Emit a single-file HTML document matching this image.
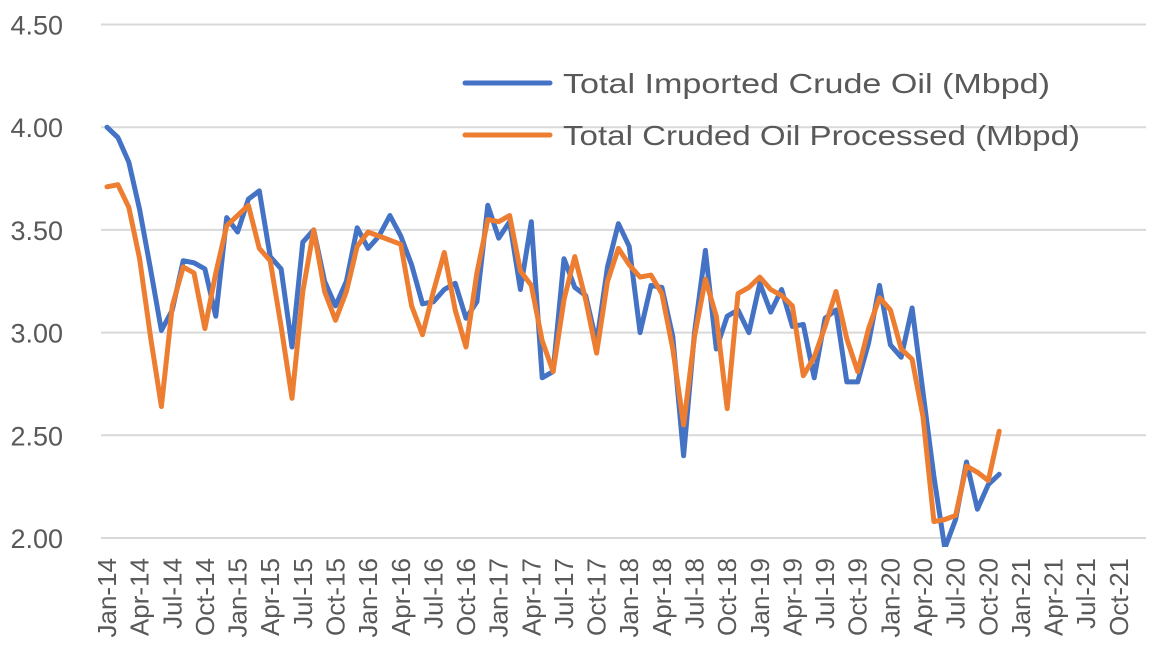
<!DOCTYPE html>
<html><head><meta charset="utf-8"><style>
html,body{margin:0;padding:0;background:#fff}
svg{display:block;font-family:"Liberation Sans",sans-serif}
</style></head><body>
<svg id="chart" width="1156" height="660" viewBox="0 0 1156 660" xmlns="http://www.w3.org/2000/svg">
<defs><clipPath id="plotclip"><rect x="95" y="10" width="1060" height="537"/></clipPath></defs>
<g id="grid"></g>
<g id="ylabels"></g>
<g id="xlabels"></g>
<g id="series" clip-path="url(#plotclip)"></g>
<g>
  <line x1="465" y1="83" x2="550" y2="83" stroke="#4472C4" stroke-width="5" stroke-linecap="round"/>
  <text x="563" y="93" font-size="28" fill="#595959" textLength="487" lengthAdjust="spacingAndGlyphs">Total Imported Crude Oil (Mbpd)</text>
  <line x1="465" y1="135" x2="550" y2="135" stroke="#ED7D31" stroke-width="5" stroke-linecap="round"/>
  <text x="563" y="145" font-size="28" fill="#595959" textLength="517" lengthAdjust="spacingAndGlyphs">Total Cruded Oil Processed (Mbpd)</text>
</g>
</svg>
<script>
const yTicks = [2.0, 2.5, 3.0, 3.5, 4.0, 4.5];
const months = ["Jan","Feb","Mar","Apr","May","Jun","Jul","Aug","Sep","Oct","Nov","Dec"];
const categoryCount = 96;
const imported = [4.00,3.95,3.83,3.60,3.31,3.01,3.11,3.35,3.34,3.31,3.08,3.56,3.49,3.65,3.69,3.37,3.31,2.93,3.44,3.50,3.25,3.13,3.25,3.51,3.41,3.47,3.57,3.47,3.33,3.14,3.15,3.21,3.24,3.07,3.15,3.62,3.46,3.54,3.21,3.54,2.78,2.81,3.36,3.22,3.18,2.95,3.32,3.53,3.42,3.00,3.23,3.22,2.98,2.40,3.00,3.40,2.92,3.08,3.11,3.00,3.24,3.10,3.21,3.03,3.04,2.78,3.07,3.11,2.76,2.76,2.95,3.23,2.94,2.88,3.12,2.71,2.30,1.95,2.09,2.37,2.14,2.26,2.31];
const processed = [3.71,3.72,3.61,3.36,2.98,2.64,3.13,3.32,3.29,3.02,3.29,3.52,3.57,3.62,3.41,3.35,3.03,2.68,3.20,3.50,3.20,3.06,3.20,3.42,3.49,3.47,3.45,3.43,3.13,2.99,3.20,3.39,3.11,2.93,3.29,3.55,3.54,3.57,3.30,3.23,2.96,2.81,3.16,3.37,3.16,2.90,3.25,3.41,3.33,3.27,3.28,3.19,2.92,2.55,2.98,3.26,3.08,2.63,3.19,3.22,3.27,3.21,3.18,3.13,2.79,2.88,3.03,3.20,2.97,2.81,3.02,3.17,3.11,2.92,2.87,2.59,2.08,2.09,2.11,2.35,2.32,2.28,2.52];

const NS = "http://www.w3.org/2000/svg";
const x0 = 107, dx = 10.88;
const xs = i => x0 + i * dx;
const ys = v => 538 - (v - 2) * 205.4;

const grid = document.getElementById('grid');
const yl = document.getElementById('ylabels');
yTicks.forEach(t => {
  const l = document.createElementNS(NS, 'line');
  
  
  l.setAttribute('x1', 101); l.setAttribute('x2', 1146);
  l.setAttribute('y1', ys(t)); l.setAttribute('y2', ys(t));
  l.setAttribute('stroke', '#d9d9d9'); l.setAttribute('stroke-width', '2');
  grid.appendChild(l);
  const tx = document.createElementNS(NS, 'text');
  
  
  tx.setAttribute('x', 63); tx.setAttribute('y', ys(t) + 10);
  tx.setAttribute('text-anchor', 'end');
  tx.setAttribute('font-size', '27'); tx.setAttribute('fill', '#595959');
  tx.textContent = t.toFixed(2);
  yl.appendChild(tx);
});

const xl = document.getElementById('xlabels');
for (let i = 0; i < categoryCount; i += 3) {
  const m = months[i % 12], yr = 14 + Math.floor(i / 12);
  const tx = document.createElementNS(NS, 'text');
  
  
  const cx = xs(i) + 9, cy = 558;
  tx.setAttribute('transform', `translate(${cx},${cy}) rotate(-90)`);
  tx.setAttribute('text-anchor', 'end');
  tx.setAttribute('font-size', '26'); tx.setAttribute('fill', '#595959');
  tx.textContent = m + '-' + yr;
  xl.appendChild(tx);
}

const sg = document.getElementById('series');
function drawSeries(data, color, name) {
  const p = document.createElementNS(NS, 'polyline');
  
  
  p.setAttribute('points', data.map((v, i) => xs(i).toFixed(1) + ',' + ys(v).toFixed(1)).join(' '));
  p.setAttribute('fill', 'none'); p.setAttribute('stroke', color);
  p.setAttribute('stroke-width', '5'); p.setAttribute('stroke-linejoin', 'round'); p.setAttribute('stroke-linecap', 'round');
  sg.appendChild(p);
}
drawSeries(imported, '#4472C4', 'imported-crude-line');
drawSeries(processed, '#ED7D31', 'processed-crude-line');
</script>
</body></html>
